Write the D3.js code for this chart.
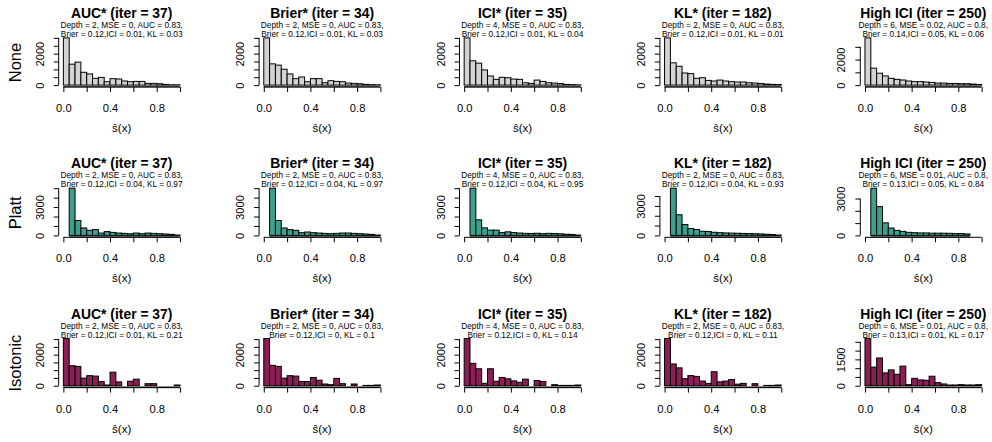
<!DOCTYPE html>
<html>
<head>
<meta charset="utf-8">
<script src="https://cdn.jsdelivr.net/npm/d3@7.9.0/dist/d3.min.js"></script>
<style>
  body { margin: 0; background: #fff; }
  svg { display: block; font-family: "Liberation Sans", Arial, Helvetica, sans-serif; }
</style>
</head>
<body>
<svg id="chart" width="992" height="442"></svg>
<script>
// rows = calibration method, columns = selected model
const methods = ['None', 'Platt', 'Isotonic'];
const models = ['AUC*', 'Brier*', 'ICI*', 'KL*', 'High ICI'];
const iters = [37, 34, 35, 182, 250];

const breaks = [0, 0.05, 0.1, 0.15, 0.2, 0.25, 0.3, 0.35, 0.4, 0.45, 0.5,
  0.55, 0.6, 0.65, 0.7, 0.75, 0.8, 0.85, 0.9, 0.95, 1];
const xTicks = [0, 0.2, 0.4, 0.6, 0.8, 1];

const statsLine1 = [
  ['Depth = 2, MSE = 0, AUC = 0.83,', 'Depth = 2, MSE = 0, AUC = 0.83,', 'Depth = 4, MSE = 0, AUC = 0.83,', 'Depth = 2, MSE = 0, AUC = 0.83,', 'Depth = 6, MSE = 0.02, AUC = 0.8,'],
  ['Depth = 2, MSE = 0, AUC = 0.83,', 'Depth = 2, MSE = 0, AUC = 0.83,', 'Depth = 4, MSE = 0, AUC = 0.83,', 'Depth = 2, MSE = 0, AUC = 0.83,', 'Depth = 6, MSE = 0.01, AUC = 0.8,'],
  ['Depth = 2, MSE = 0, AUC = 0.83,', 'Depth = 2, MSE = 0, AUC = 0.83,', 'Depth = 4, MSE = 0, AUC = 0.83,', 'Depth = 2, MSE = 0, AUC = 0.83,', 'Depth = 6, MSE = 0.01, AUC = 0.8,']
];
const statsLine2 = [
  ['Brier = 0.12,ICI = 0.01, KL = 0.03', 'Brier = 0.12,ICI = 0.01, KL = 0.03', 'Brier = 0.12,ICI = 0.01, KL = 0.04', 'Brier = 0.12,ICI = 0.01, KL = 0.01', 'Brier = 0.14,ICI = 0.05, KL = 0.06'],
  ['Brier = 0.12,ICI = 0.04, KL = 0.97', 'Brier = 0.12,ICI = 0.04, KL = 0.97', 'Brier = 0.12,ICI = 0.04, KL = 0.95', 'Brier = 0.12,ICI = 0.04, KL = 0.93', 'Brier = 0.13,ICI = 0.05, KL = 0.84'],
  ['Brier = 0.12,ICI = 0.01, KL = 0.21', 'Brier = 0.12,ICI = 0, KL = 0.1', 'Brier = 0.12,ICI = 0, KL = 0.14', 'Brier = 0.12,ICI = 0, KL = 0.11', 'Brier = 0.13,ICI = 0.01, KL = 0.17']
];

// histogram counts per bin (0.05 wide)
const countsNone = [
  [3000, 1330, 1460, 815, 710, 430, 490, 215, 410, 390, 260, 215, 235, 235, 110, 110, 85, 45, 20, 20],
  [3000, 1350, 1270, 1010, 710, 410, 515, 215, 410, 410, 150, 280, 235, 215, 130, 110, 85, 45, 30, 20],
  [3000, 1545, 1395, 965, 580, 365, 495, 470, 385, 365, 150, 110, 320, 235, 150, 130, 100, 45, 30, 20],
  [3000, 1415, 1200, 770, 730, 430, 470, 300, 260, 320, 260, 215, 195, 195, 150, 130, 105, 65, 45, 40],
  [3700, 1330, 930, 720, 530, 450, 400, 320, 270, 270, 240, 210, 160, 160, 130, 130, 110, 110, 80, 50]
];
const countsPlatt = [
  [0, 5000, 1580, 790, 540, 610, 250, 400, 320, 250, 215, 180, 250, 180, 250, 215, 180, 145, 110, 40],
  [0, 5000, 1580, 790, 610, 540, 290, 360, 290, 250, 215, 180, 215, 250, 250, 215, 180, 145, 110, 40],
  [0, 5000, 1650, 800, 560, 560, 300, 380, 300, 250, 220, 200, 230, 180, 220, 200, 170, 130, 100, 40],
  [0, 4800, 2100, 1100, 700, 600, 420, 400, 320, 280, 250, 230, 220, 200, 190, 170, 150, 120, 90, 40],
  [0, 3840, 2340, 1020, 600, 410, 330, 250, 220, 200, 200, 180, 180, 180, 170, 150, 150, 120, 0, 0]
];
const countsIsotonic = [
  [3040, 1290, 1245, 490, 645, 620, 270, 45, 870, 245, 0, 290, 420, 0, 130, 130, 0, 0, 0, 45],
  [3040, 1310, 1245, 490, 645, 620, 270, 270, 530, 355, 110, 65, 470, 130, 0, 110, 0, 20, 20, 45],
  [3040, 1440, 1090, 155, 1090, 290, 530, 445, 310, 220, 420, 0, 335, 265, 0, 65, 20, 20, 20, 45],
  [3040, 1400, 1150, 450, 650, 600, 300, 150, 900, 250, 300, 400, 100, 150, 0, 130, 0, 20, 20, 45],
  [2690, 1060, 1580, 730, 900, 650, 1115, 60, 420, 330, 310, 540, 175, 100, 40, 40, 60, 40, 40, 60]
];
const countsByMethod = [countsNone, countsPlatt, countsIsotonic];
const fills = ['#d3d3d3', '#3ca08c', '#8b1f55'];

const svg = d3.select('#chart');
const colStep = 200.4, rowStep = 150.3;
const plot = { left: 58.7, right: 184.7, top: 36, bottom: 87 };
const axisFont = 11.2;

// width of "m" is the gap R keeps between axis labels
const probe = svg.append('text').attr('font-size', axisFont).text('m');
const mWidth = probe.node().getComputedTextLength();
probe.remove();

function cull(texts, pos, along) {
  // drop labels that would collide with the previous drawn one
  let lastEnd = null;
  texts.each(function (d) {
    const len = this.getComputedTextLength();
    const p = pos(d);
    const start = along * p - len / 2;
    if (lastEnd !== null && start - lastEnd < mWidth) {
      d3.select(this).remove();
    } else {
      lastEnd = along * p + len / 2;
    }
  });
}

methods.forEach((method, r) => {
  models.forEach((model, c) => {
    const counts = countsByMethod[r][c];
    const g = svg.append('g').attr('transform', `translate(${c * colStep},${r * rowStep})`);

    const x = d3.scaleLinear().domain([-0.04, 1.04]).range([plot.left, plot.right]);
    const maxCount = d3.max(counts);
    const y = d3.scaleLinear().domain([-0.04 * maxCount, 1.04 * maxCount]).range([plot.bottom, plot.top]);

    const bins = counts.map((n, i) => ({ x0: breaks[i], x1: breaks[i + 1], n }));

    g.append('g').selectAll('rect').data(bins).join('rect')
      .attr('x', d => x(d.x0))
      .attr('y', d => y(d.n))
      .attr('width', d => x(d.x1) - x(d.x0))
      .attr('height', d => y(0) - y(d.n))
      .attr('fill', fills[r])
      .attr('stroke', '#000')
      .attr('stroke-width', 1);

    // rug band below the bars
    const filled = bins.filter(d => d.n > 0);
    g.append('rect')
      .attr('x', x(filled[0].x0))
      .attr('width', x(filled[filled.length - 1].x1) - x(filled[0].x0))
      .attr('y', y(0) + 0.5)
      .attr('height', plot.bottom - y(0))
      .attr('fill', '#6a6a6a');

    // y axis
    const yTicks = y.ticks(5).filter(t => t >= 0);
    const yAxis = g.append('g')
      .attr('transform', `translate(${plot.left},0)`)
      .call(d3.axisLeft(y).tickValues(yTicks).tickSize(5).tickSizeOuter(0).tickFormat(d3.format('d')))
      .attr('font-size', axisFont).attr('font-family', null);
    yAxis.select('.domain').remove();
    yAxis.append('line')
      .attr('y1', y(yTicks[0])).attr('y2', y(yTicks[yTicks.length - 1]))
      .attr('stroke', '#000');
    yAxis.selectAll('.tick line').attr('stroke', '#000');
    yAxis.selectAll('.tick text')
      .attr('fill', '#000')
      .attr('text-anchor', 'middle')
      .attr('transform', 'rotate(-90)')
      .attr('x', 0).attr('y', -15).attr('dy', null);
    cull(yAxis.selectAll('.tick text'), d => y(d), -1);

    // x axis
    const xAxis = g.append('g')
      .attr('transform', `translate(0,${plot.bottom})`)
      .call(d3.axisBottom(x).tickValues(xTicks).tickSize(5).tickSizeOuter(0).tickPadding(12).tickFormat(d3.format('.1f')))
      .attr('font-size', axisFont).attr('font-family', null);
    xAxis.select('.domain').remove();
    xAxis.append('line')
      .attr('x1', x(xTicks[0])).attr('x2', x(xTicks[xTicks.length - 1]))
      .attr('stroke', '#000');
    xAxis.selectAll('.tick line').attr('stroke', '#000');
    xAxis.selectAll('.tick text').attr('fill', '#000');
    cull(xAxis.selectAll('.tick text'), d => x(d), 1);

    const cx = (plot.left + plot.right) / 2;
    g.append('text')
      .attr('x', cx).attr('y', 132)
      .attr('text-anchor', 'middle')
      .attr('font-size', 11.5)
      .text('ŝ(x)');

    g.append('text')
      .attr('x', cx).attr('y', 18)
      .attr('text-anchor', 'middle')
      .attr('font-size', 13.9)
      .attr('font-weight', 'bold')
      .text(`${model} (iter = ${iters[c]})`);
    g.append('text')
      .attr('x', cx).attr('y', 28)
      .attr('text-anchor', 'middle')
      .attr('font-size', 8.3)
      .text(statsLine1[r][c]);
    g.append('text')
      .attr('x', cx).attr('y', 37)
      .attr('text-anchor', 'middle')
      .attr('font-size', 8.3)
      .text(statsLine2[r][c]);

    if (c === 0) {
      g.append('text')
        .attr('transform', `translate(21,${(plot.top + plot.bottom) / 2 + 1}) rotate(-90)`)
        .attr('text-anchor', 'middle')
        .attr('font-size', 16.5)
        .text(method);
    }
  });
});
</script>
</body>
</html>
